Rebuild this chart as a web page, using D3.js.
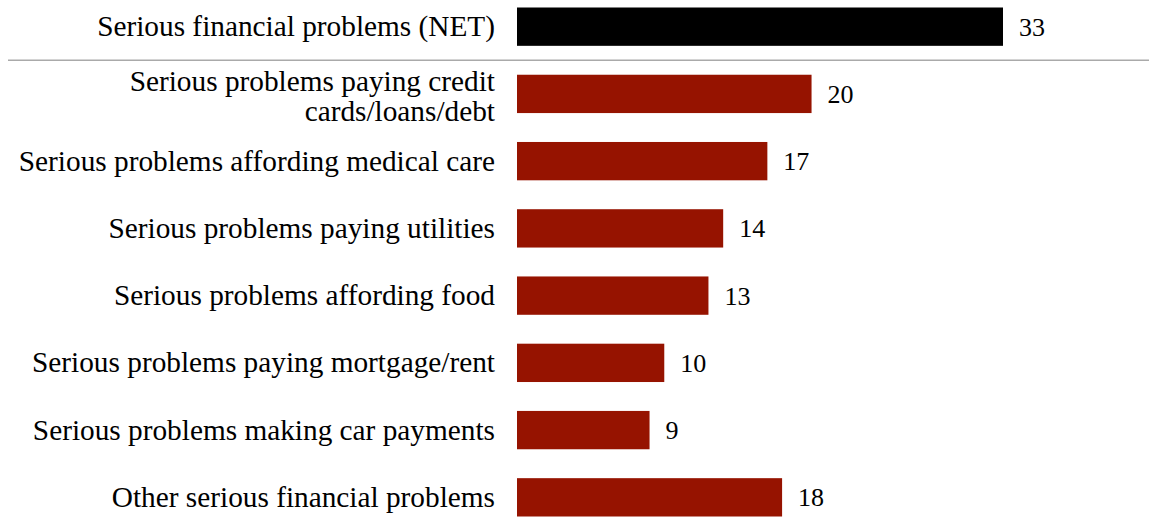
<!DOCTYPE html>
<html>
<head>
<meta charset="utf-8">
<script src="https://cdn.jsdelivr.net/npm/d3@7"></script>
<style>
  body { margin: 0; background: #fff; }
  text { font-family: "Liberation Serif", "Times New Roman", serif; fill: #000; }
</style>
</head>
<body>
<div id="chart"></div>
<script>
// Chart data
var categories = [
  "Serious financial problems (NET)",
  "Serious problems paying credit|cards/loans/debt",
  "Serious problems affording medical care",
  "Serious problems paying utilities",
  "Serious problems affording food",
  "Serious problems paying mortgage/rent",
  "Serious problems making car payments",
  "Other serious financial problems"
];
var values = [33, 20, 17, 14, 13, 10, 9, 18];
var isNet = [true, false, false, false, false, false, false, false];

var svgWidth = 1149;
var svgHeight = 517;

var svg = d3.select("#chart")
  .append("svg")
  .attr("width", svgWidth)
  .attr("height", svgHeight);

var rows = categories.map(function(c, i) {
  return {label: c, value: values[i], net: isNet[i]};
});

// Scales
var yScale = d3.scaleBand()
  .domain(categories)
  .range([7.5, 516.5])
  .paddingInner(0.43)
  .paddingOuter(0);

var xScale = d3.scaleLinear()
  .domain([0, d3.max(values)])
  .range([517, 1003]);

// Bars
svg.selectAll("rect.bar")
  .data(rows)
  .enter()
  .append("rect")
  .attr("class", "bar")
  .attr("x", xScale(0))
  .attr("y", function(d) { return yScale(d.label); })
  .attr("width", function(d) { return xScale(d.value) - xScale(0); })
  .attr("height", yScale.bandwidth())
  .attr("fill", function(d) { return d.net ? "#000000" : "#961300"; });

// Value labels
svg.selectAll("text.value")
  .data(rows)
  .enter()
  .append("text")
  .attr("class", "value")
  .attr("x", function(d) { return xScale(d.value) + 16; })
  .attr("y", function(d) { return yScale(d.label) + yScale.bandwidth() / 2 + 9; })
  .style("font-size", "26px")
  .text(function(d) { return d.value; });

// Category labels (| marks a line break)
var labels = svg.selectAll("text.cat")
  .data(rows)
  .enter()
  .append("text")
  .attr("class", "cat")
  .attr("text-anchor", "end")
  .style("font-size", "29.3px")
  .attr("y", function(d) { return yScale(d.label) + yScale.bandwidth() / 2; });

labels.each(function(d) {
  var lines = d.label.split("|");
  var lh = 30;
  var start = -(lines.length - 1) * lh / 2;
  var off = lines.length > 1 ? 12.5 : 9.5;
  d3.select(this).selectAll("tspan")
    .data(lines)
    .enter()
    .append("tspan")
    .attr("x", 495)
    .attr("dy", function(l, i) { return i === 0 ? (start + off) + "px" : lh + "px"; })
    .text(function(l) { return l; });
});

// Separator under NET row
var sepY = (yScale(categories[0]) + yScale.bandwidth() + yScale(categories[1])) / 2;
svg.append("line")
  .attr("x1", 8)
  .attr("x2", svgWidth)
  .attr("y1", sepY)
  .attr("y2", sepY)
  .attr("stroke", "#aaaaaa")
  .attr("stroke-width", 1.5);
</script>
</body>
</html>
